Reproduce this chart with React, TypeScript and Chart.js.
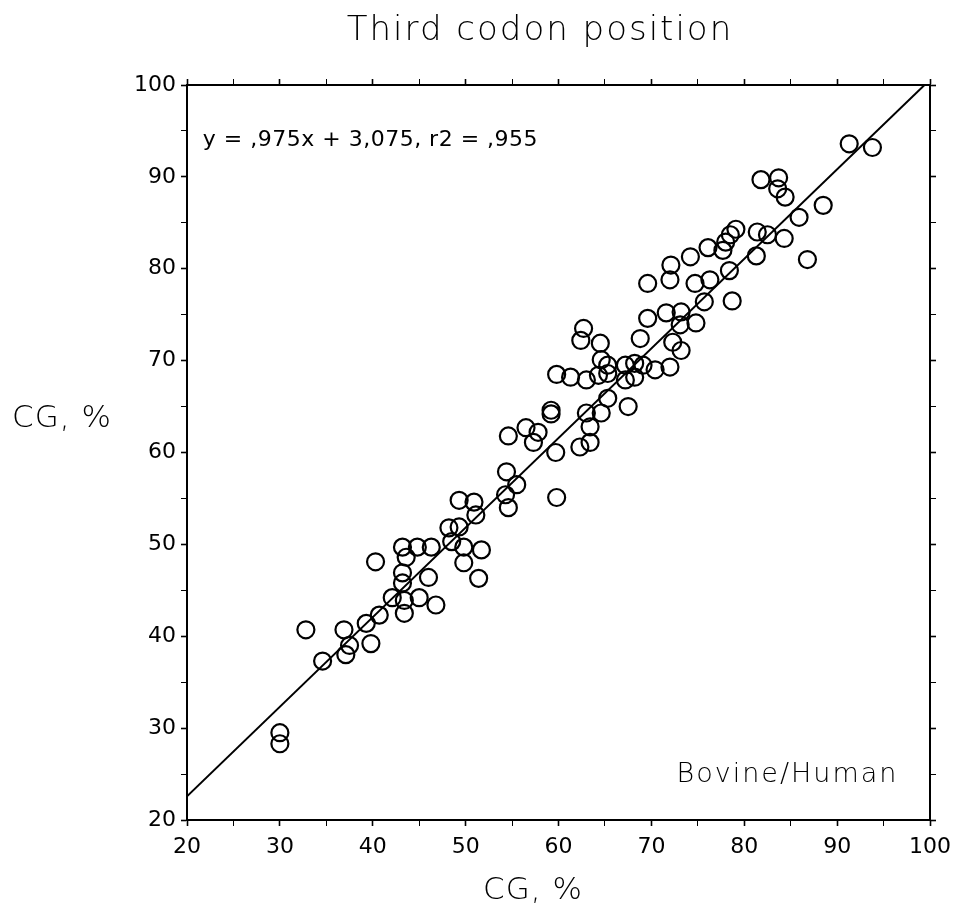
import React, { useEffect, useRef } from 'react';
import { Chart, registerables } from 'chart.js';

Chart.register(...registerables);

const TITLE = 'Third codon position';
const AXIS_TITLE = 'CG, %';
const EQUATION = 'y = ,975x + 3,075, r2 = ,955';
const PAIR_LABEL = 'Bovine/Human';
const AXIS_MIN = 20;
const AXIS_MAX = 100;
const TICK_STEP = 5;

// CG% at the third codon position: bovine (x) vs human (y)
const bovineCG = [
  91.3, 93.8, 81.8, 83.7, 83.6, 84.4, 88.5, 85.9, 86.8, 84.3,
  82.5, 81.4, 79.1, 78.5, 78.0, 77.7, 81.3, 78.4, 76.1, 74.2,
  72.1, 72.0, 74.7, 76.3, 75.7, 78.7, 69.6, 71.6, 73.2, 74.8,
  73.1, 69.6, 72.3, 73.2, 72.0, 70.4, 68.8, 68.2, 69.1, 67.2,
  67.2, 68.2, 67.5, 65.3, 65.3, 65.3, 64.3, 64.6, 64.5, 62.7,
  62.4, 63.0, 61.3, 59.8, 64.6, 63.0, 63.4, 63.4, 62.3, 59.7,
  59.2, 59.2, 57.8, 57.3, 56.5, 54.6, 59.8, 54.4, 55.5, 54.3,
  54.6, 49.3, 50.9, 51.1, 48.2, 49.3, 48.5, 49.8, 51.7, 49.8,
  51.4, 43.2, 44.8, 46.3, 43.6, 40.3, 43.2, 43.2, 46.0, 42.1,
  43.4, 45.0, 46.8, 43.4, 40.7, 39.3, 39.8, 36.9, 37.5, 37.1,
  34.6, 32.8, 30.0, 30.0,
];
const humanCG = [
  93.6, 93.2, 89.7, 89.9, 88.7, 87.8, 86.9, 85.6, 81.0, 83.3,
  83.7, 84.0, 84.3, 83.7, 82.9, 82.0, 81.4, 79.8, 82.3, 81.3,
  80.4, 78.8, 78.4, 78.8, 76.4, 76.5, 78.4, 75.2, 75.3, 74.1,
  73.9, 74.6, 72.0, 71.1, 69.3, 69.0, 72.4, 69.7, 69.5, 69.5,
  67.9, 68.2, 65.0, 65.9, 69.5, 68.6, 68.4, 70.1, 71.9, 73.5,
  72.2, 67.9, 68.2, 68.5, 64.3, 64.3, 62.8, 61.1, 60.6, 60.0,
  64.6, 64.2, 62.2, 61.1, 62.7, 61.8, 55.1, 57.9, 56.5, 55.4,
  54.0, 54.8, 54.6, 53.2, 51.8, 51.9, 50.3, 49.7, 49.4, 48.0,
  46.3, 49.7, 49.7, 49.7, 48.6, 48.1, 46.9, 45.8, 46.4, 44.2,
  43.9, 44.2, 43.4, 42.5, 42.3, 41.4, 39.2, 40.7, 39.0, 38.0,
  37.3, 40.7, 29.5, 28.3,
];

// regression line endpoints (y = ,975x + 3,075)
const fitX = [20, 100];
const fitY = [22.575, 100.575];

const FONT = "'DejaVu Sans', sans-serif";
const LIGHT = 300;
const INK = '#000';

const textPlugin = {
  id: 'figureText',
  afterDraw(chart: any) {
    const ctx = chart.ctx as CanvasRenderingContext2D;
    const xs = chart.scales.x;
    const ys = chart.scales.y;
    ctx.save();
    ctx.fillStyle = INK;

    // title
    (ctx as any).letterSpacing = '2px';
    ctx.font = `${LIGHT} 34px ${FONT}`;
    ctx.textAlign = 'center';
    ctx.textBaseline = 'alphabetic';
    ctx.fillText(TITLE, 540, 40);

    // y-axis title (horizontal)
    (ctx as any).letterSpacing = '1px';
    ctx.font = `${LIGHT} 31px ${FONT}`;
    ctx.textBaseline = 'middle';
    ctx.fillText(AXIS_TITLE, 62, 419);

    // x-axis title
    ctx.textBaseline = 'alphabetic';
    ctx.fillText(AXIS_TITLE, 533, 899);

    // regression equation
    (ctx as any).letterSpacing = '0.5px';
    ctx.font = `normal 22px ${FONT}`;
    ctx.textAlign = 'left';
    ctx.fillText(EQUATION, xs.getPixelForValue(21.7), ys.getPixelForValue(93.4));

    // species pair
    (ctx as any).letterSpacing = '2px';
    ctx.font = `${LIGHT} 27px ${FONT}`;
    ctx.textAlign = 'right';
    ctx.fillText(PAIR_LABEL, xs.getPixelForValue(96.6), ys.getPixelForValue(24.1));
    ctx.restore();
  },
};

function tickWidth(ctx: any) {
  return ctx.tick && ctx.tick.value % 10 === 0 ? 1.6 : 1;
}

function axis(position: string, size: number, labels: boolean, isX: boolean) {
  return {
    type: 'linear',
    position,
    min: AXIS_MIN,
    max: AXIS_MAX,
    ticks: {
      stepSize: TICK_STEP,
      autoSkip: false,
      maxRotation: 0,
      minRotation: 0,
      padding: isX ? 8 : 5,
      color: INK,
      font: { family: FONT, size: 22, weight: 'normal' },
      callback: (v: number) => (labels && v % 10 === 0 ? String(v) : ''),
    },
    grid: {
      drawOnChartArea: false,
      drawTicks: true,
      tickLength: 6,
      tickColor: INK,
      tickWidth,
    },
    border: { display: true, color: INK, width: 2 },
    afterFit: (scale: any) => {
      if (isX) scale.height = size;
      else scale.width = size;
    },
  };
}

export default function App() {
  const ref = useRef<HTMLCanvasElement | null>(null);

  useEffect(() => {
    document.body.style.margin = '0';
    document.body.style.overflow = 'hidden';
    const canvas = ref.current;
    if (!canvas) return;
    const points = bovineCG.map((x, i) => ({ x, y: humanCG[i] }));
    const fit = fitX.map((x, i) => ({ x, y: fitY[i] }));
    const chart = new Chart(canvas, {
      type: 'scatter',
      data: {
        datasets: [
          {
            type: 'line',
            data: fit,
            borderColor: INK,
            borderWidth: 2,
            pointRadius: 0,
            fill: false,
            xAxisID: 'x',
            yAxisID: 'y',
          } as any,
          {
            data: points,
            pointStyle: 'circle',
            pointRadius: 8.5,
            borderWidth: 2.2,
            borderColor: INK,
            backgroundColor: 'rgba(0,0,0,0)',
            xAxisID: 'x',
            yAxisID: 'y',
          },
        ],
      },
      options: {
        animation: false,
        responsive: false,
        devicePixelRatio: 1,
        layout: { padding: 0, autoPadding: false } as any,
        plugins: {
          legend: { display: false },
          tooltip: { enabled: false },
          title: { display: false },
        },
        scales: {
          x: axis('bottom', 85, true, true),
          x2: axis('top', 85, false, true),
          y: axis('left', 187, true, false),
          y2: axis('right', 26, false, false),
        } as any,
      },
      plugins: [textPlugin],
    });
    return () => chart.destroy();
  }, []);

  return (
    <div style={{ width: 959, height: 905 }}>
      <canvas ref={ref} width={959} height={905} style={{ display: 'block' }} />
    </div>
  );
}
